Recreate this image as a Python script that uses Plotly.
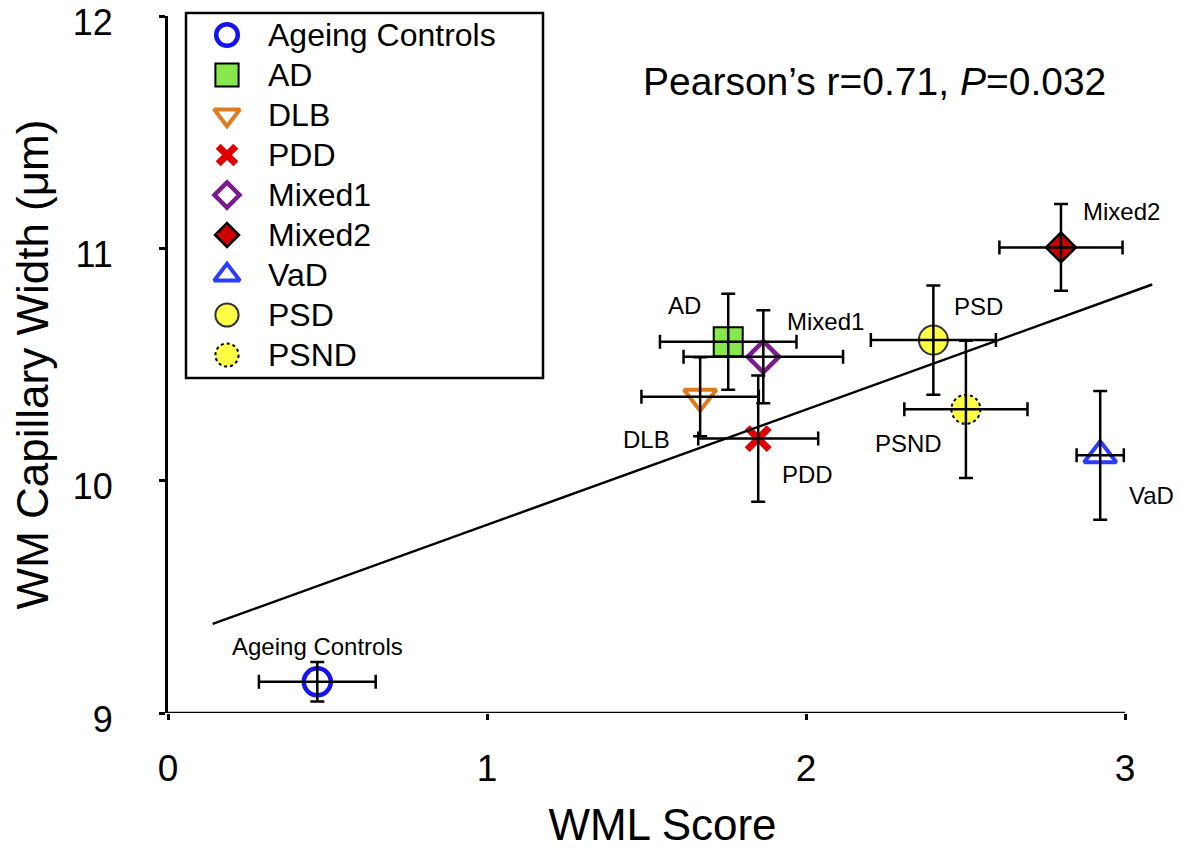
import plotly.graph_objects as go

# ---------------- data ----------------
groups = ["Ageing Controls", "AD", "DLB", "PDD", "Mixed1", "Mixed2", "VaD", "PSD", "PSND"]
wml_score = [0.468, 1.756, 1.668, 1.850, 1.866, 2.799, 2.922, 2.399, 2.501]
wml_err = [0.183, 0.214, 0.184, 0.188, 0.250, 0.193, 0.074, 0.196, 0.193]
cap_width = [9.134, 10.598, 10.361, 10.181, 10.533, 11.004, 10.109, 10.605, 10.307]
cap_err = [0.085, 0.207, 0.170, 0.272, 0.200, 0.187, 0.277, 0.235, 0.295]

fit_slope = 0.496
fit_intercept = 9.314
fit_x_range = [0.14, 3.085]

x_ticks = [0, 1, 2, 3]
y_ticks = [9, 10, 11, 12]
annot_text = "Pearson\u2019s r=0.71, <i>P</i>=0.032"

# ---------------- styles / layout constants ----------------
FONT = "Liberation Sans, Arial, Helvetica, sans-serif"
W, H = 1181, 852
OFF = 8  # default page margin around the figure
PLOT_L, PLOT_R, PLOT_T, PLOT_B = 168, 1157, 16, 713
LEG_L, LEG_R, LEG_T, LEG_B = 186, 543, 13, 378
LEG_ROW0, LEG_STEP, LEG_SYM_X, LEG_TEXT_X = 35, 40, 41, 80
LEG_SCALE = 0.8


def px_to_paper_x(p):
    return (p - PLOT_L) / (PLOT_R - PLOT_L)


def px_to_paper_y(p):
    return (PLOT_B - p) / (PLOT_B - PLOT_T)


marker_styles = {
    "Ageing Controls": dict(symbol="circle-open", size=27, color="#1414f0",
                            line=dict(width=4.5, color="#1414f0")),
    "AD": dict(symbol="square", size=29, color="#86e84a", line=dict(width=2, color="black")),
    "DLB": dict(symbol="triangle-down-open", size=28, color="#e07a1f",
                line=dict(width=4, color="#e07a1f")),
    "PDD": dict(symbol="x-thin-open", size=22, color="#e00000", line=dict(width=7, color="#e00000")),
    "Mixed1": dict(symbol="diamond-open", size=24, color="#7a1a8c",
                   line=dict(width=4.5, color="#7a1a8c")),
    "Mixed2": dict(symbol="diamond", size=23, color="#cc0000", line=dict(width=2.5, color="black")),
    "VaD": dict(symbol="triangle-up-open", size=28, color="#2a3cff",
                line=dict(width=4, color="#2a3cff")),
    "PSD": dict(symbol="circle", size=29, color="#ffff44", line=dict(width=2, color="#333333")),
    "PSND": dict(symbol="circle", size=29, color="#ffff44", line=dict(width=0)),
}
dashed_outline = {"PSND"}
# label placement: (xanchor, xshift px, yshift px)
label_place = {
    "Ageing Controls": ("center", 0, 35),
    "AD": ("right", -25, 36),
    "DLB": ("right", -28, -43),
    "PDD": ("left", 22, -36),
    "Mixed1": ("left", 22, 35),
    "Mixed2": ("left", 20, 36),
    "VaD": ("left", 27, -40),
    "PSD": ("left", 19, 34),
    "PSND": ("right", -22, -34),
}

fig = go.Figure()

# data markers
for i, g in enumerate(groups):
    fig.add_trace(go.Scatter(
        x=[wml_score[i]], y=[cap_width[i]], mode="markers", name=g,
        marker=marker_styles[g], showlegend=False, hoverinfo="x+y+name",
    ))

# regression line
fit_y = [fit_intercept + fit_slope * xv for xv in fit_x_range]
fig.add_trace(go.Scatter(
    x=fit_x_range, y=fit_y, mode="lines", line=dict(color="black", width=2.5),
    showlegend=False, hoverinfo="skip",
))

# error bars on top of markers
fig.add_trace(go.Scatter(
    x=wml_score, y=cap_width, mode="markers",
    marker=dict(size=1, color="rgba(0,0,0,0)"),
    error_x=dict(type="data", array=wml_err, color="black", thickness=2.5, width=7),
    error_y=dict(type="data", array=cap_err, color="black", thickness=2.5, width=7),
    showlegend=False, hoverinfo="skip",
))

# invisible trace so the overlaid axis (visible y line + short ticks) is drawn
fig.add_trace(go.Scatter(
    x=wml_score, y=cap_width, yaxis="y3", mode="markers",
    marker=dict(size=1, color="rgba(0,0,0,0)"), showlegend=False, hoverinfo="skip",
))

# legend (drawn in its own small subplot)
for i, g in enumerate(groups):
    st = dict(marker_styles[g])
    st["size"] = st["size"] * LEG_SCALE
    fig.add_trace(go.Scatter(
        x=[LEG_SYM_X], y=[i], xaxis="x2", yaxis="y2", mode="markers", name=g,
        marker=st, showlegend=False, hoverinfo="name",
    ))

annotations = []
for i, g in enumerate(groups):
    xa, xs, ys = label_place[g]
    annotations.append(dict(
        x=wml_score[i], y=cap_width[i], xref="x", yref="y", text=g, showarrow=False,
        xanchor=xa, yanchor="middle", xshift=xs, yshift=ys,
        font=dict(size=24, family=FONT, color="black"),
    ))
    annotations.append(dict(
        x=LEG_TEXT_X, y=i, xref="x2", yref="y2", text=g, showarrow=False,
        xanchor="left", yanchor="middle", font=dict(size=32, family=FONT, color="black"),
    ))
annotations.append(dict(
    x=2.215, y=11.72, xref="x", yref="y", text=annot_text, showarrow=False,
    xanchor="center", yanchor="middle", font=dict(size=39, family=FONT, color="black"),
))

shapes = [
    dict(type="line", xref="x", yref="y", x0=x_ticks[0], x1=x_ticks[-1],
         y0=y_ticks[0], y1=y_ticks[0], line=dict(color="black", width=2.5), layer="above"),
    dict(type="rect", xref="paper", yref="paper",
         x0=px_to_paper_x(LEG_L), x1=px_to_paper_x(LEG_R),
         y0=px_to_paper_y(LEG_B), y1=px_to_paper_y(LEG_T),
         line=dict(color="black", width=2.5), layer="above"),
]
for i, g in enumerate(groups):
    if g in dashed_outline:
        r = marker_styles[g]["size"] / 2
        shapes.append(dict(
            type="circle", xref="x", yref="y", xsizemode="pixel", ysizemode="pixel",
            xanchor=wml_score[i], yanchor=cap_width[i], x0=-r, x1=r, y0=-r, y1=r,
            line=dict(color="black", width=2, dash="dot"), layer="above"))
        rl = r * LEG_SCALE
        shapes.append(dict(
            type="circle", xref="x2", yref="y2", xsizemode="pixel", ysizemode="pixel",
            xanchor=LEG_SYM_X, yanchor=i, x0=-rl, x1=rl, y0=-rl, y1=rl,
            line=dict(color="black", width=2, dash="dot"), layer="above"))

leg_v_top = (PLOT_T - LEG_ROW0) / LEG_STEP
leg_v_bot = (LEG_B - LEG_ROW0) / LEG_STEP
y_range = [y_ticks[0], y_ticks[-1]]

fig.update_layout(
    width=W - OFF, height=H - OFF,
    margin=dict(l=PLOT_L - OFF, r=W - PLOT_R, t=PLOT_T - OFF, b=H - PLOT_B),
    paper_bgcolor="white", plot_bgcolor="rgba(0,0,0,0)",
    font=dict(family=FONT, color="black"),
    showlegend=False,
    xaxis=dict(range=[0, 3.1], tickvals=x_ticks, ticks="outside", ticklen=6, tickwidth=2.5,
               tickcolor="black", showline=False, showgrid=False, zeroline=False,
               tickfont=dict(size=37), ticklabelstandoff=17, automargin=False,
               ticklabeloverflow="allow",
               title=dict(text="WML Score", font=dict(size=44), standoff=20)),
    # labelled axis: transparent long ticks push the labels away from the axis line
    yaxis=dict(range=y_range, tickvals=y_ticks, ticks="outside", ticklen=47, tickwidth=1,
               tickcolor="rgba(0,0,0,0)", showline=False,
               showgrid=False, zeroline=False, tickfont=dict(size=36),
               ticklabelshift=6, automargin=False, ticklabeloverflow="allow",
               title=dict(text="WM Capillary Width (\u03bcm)", font=dict(size=44), standoff=30)),
    # visible axis line and short ticks
    yaxis3=dict(range=y_range, tickvals=y_ticks, overlaying="y", anchor="x", side="left",
                ticks="outside", ticklen=6, tickwidth=2.5, tickcolor="black",
                showline=True, linewidth=2.5, linecolor="black", showticklabels=False,
                showgrid=False, zeroline=False, automargin=False, fixedrange=True),
    xaxis2=dict(domain=[px_to_paper_x(LEG_L), px_to_paper_x(LEG_R)], range=[0, LEG_R - LEG_L],
                anchor="y2", visible=False, fixedrange=True),
    yaxis2=dict(domain=[px_to_paper_y(LEG_B), 1.0], range=[leg_v_bot, leg_v_top],
                anchor="x2", visible=False, fixedrange=True),
    annotations=annotations,
    shapes=shapes,
)

fig.write_html("out.html")
